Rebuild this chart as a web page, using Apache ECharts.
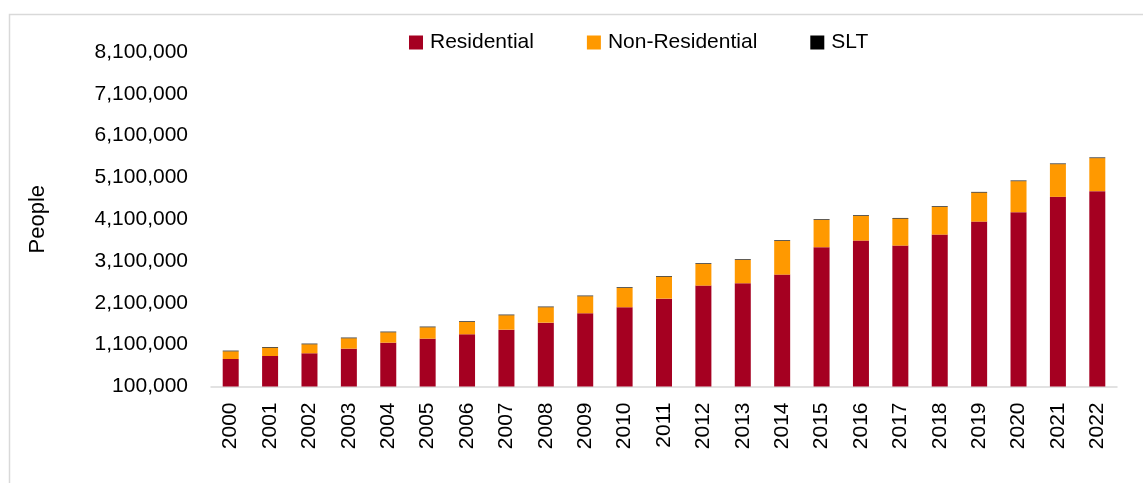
<!DOCTYPE html>
<html>
<head>
<meta charset="utf-8">
<script src="https://cdn.jsdelivr.net/npm/echarts@6/dist/echarts.min.js"></script>
<style>
html,body{margin:0;padding:0;background:#fff;}
#chart{width:1143px;height:483px;}
</style>
</head>
<body>
<div id="chart"></div>
<script>
const years = ['2000','2001','2002','2003','2004','2005','2006','2007','2008','2009','2010','2011','2012','2013','2014','2015','2016','2017','2018','2019','2020','2021','2022'];
const residential = [758000,830000,895000,1005000,1148000,1244000,1349000,1459000,1627000,1852000,1996000,2201000,2513000,2570000,2776000,3432000,3590000,3470000,3733000,4044000,4269000,4636000,4772000];
const nonResidential = [184000,199000,215000,249000,249000,273000,295000,345000,369000,407000,462000,525000,519000,558000,807000,653000,591000,646000,663000,695000,742000,782000,790000];
const slt = [15000,15000,15000,15000,15000,15000,15000,15000,15000,15000,15000,15000,15000,15000,15000,15000,15000,15000,15000,15000,15000,15000,15000];
const yMin = 100000, yMax = 8100000, yStep = 1000000;

const FONT = 'Liberation Sans';
const chart = echarts.init(document.getElementById('chart'), null, {renderer:'canvas'});
chart.setOption({
  animation: false,
  backgroundColor: '#fff',
  textStyle: {fontFamily: FONT},
  graphic: [{
    type: 'rect', left: 7, top: 12, shape: {width: 1300, height: 600},
    style: {fill: 'none', stroke: '#d9d9d9', lineWidth: 1.5}, z: -1
  }],
  legend: {
    top: 27, left: 404,
    itemWidth: 14, itemHeight: 14, itemGap: 53,
    icon: 'rect',
    textStyle: {fontSize: 21, color: '#000', fontFamily: FONT, padding: [0,0,0,2]},
    data: ['Residential','Non-Residential','SLT']
  },
  grid: {left: 211, right: 26, top: 52, bottom: 96.5, containLabel: false},
  xAxis: {
    type: 'category', data: years,
    axisLine: {lineStyle: {color: '#d9d9d9', width: 1.5}},
    axisTick: {show: false},
    axisLabel: {rotate: 90, fontSize: 21, color: '#000', fontFamily: FONT, margin: 16, interval: 0}
  },
  yAxis: {
    type: 'value', min: yMin, max: yMax, interval: yStep,
    name: 'People', nameLocation: 'middle', nameGap: 162,
    nameTextStyle: {fontSize: 22, color: '#000', fontFamily: FONT},
    axisLine: {show: false}, axisTick: {show: false}, splitLine: {show: false},
    axisLabel: {fontSize: 21, color: '#000', fontFamily: FONT, margin: 23,
      formatter: v => v.toLocaleString('en-US')}
  },
  series: [
    {name: 'Residential', type: 'bar', stack: 'a', data: residential, barWidth: 16, clip: true, itemStyle: {color: '#A50021'}},
    {name: 'Non-Residential', type: 'bar', stack: 'a', data: nonResidential, barWidth: 16, clip: true, itemStyle: {color: '#FF9900'}},
    {name: 'SLT', type: 'bar', stack: 'a', data: slt, barWidth: 16, clip: true, itemStyle: {color: '#000'}}
  ]
});
</script>
</body>
</html>
